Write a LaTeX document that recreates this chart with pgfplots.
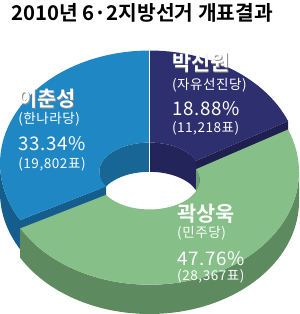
\documentclass[border=0pt]{standalone}
\usepackage{pgfplots}
\pgfplotsset{compat=1.18}
\usepackage{fontspec}
\setmainfont{Noto Sans CJK KR}[BoldFont={Noto Sans CJK KR Bold}]
\newfontfamily\spaced{Noto Sans CJK KR}[LetterSpace=4]
\definecolor{blueTop}{HTML}{1F87C4}
\definecolor{blueSide}{HTML}{155D8C}
\definecolor{blueIn}{HTML}{176695}
\definecolor{navyTop}{HTML}{2E2F6E}
\definecolor{navySide}{HTML}{1F2050}
\definecolor{navyIn}{HTML}{23245A}
\definecolor{greenTop}{HTML}{86BF88}
\definecolor{greenSide}{HTML}{5E8A60}
\definecolor{greenIn}{HTML}{6E9E70}
% shares of the vote (percent)
\def\pNavy{18.88}
\def\pGreen{47.76}
\def\pBlue{33.34}
% geometry (bp)
\def\cx{148}\def\rx{143}\def\ry{108}\def\irx{48}\def\iry{28}\def\dep{28}
\def\oUp{152}\def\iUp{144}\def\oLo{144}\def\iLo{136}
\newcommand{\topface}[5]{%
 \addplot[fill=#1, draw=none, domain=#2:#3, samples=60, variable=\t]
  ({\cx+\rx*cos(\t)},{#4+\ry*sin(\t)})
  -- (axis cs:{\cx+\irx*cos(#3)},{#5+\iry*sin(#3)})
  arc[start angle=#3, end angle=#2, x radius=\irx bp, y radius=\iry bp] -- cycle;}
\newcommand{\outside}[4]{%
 \addplot[fill=#1, draw=none, domain=#2:#3, samples=60, variable=\t]
  ({\cx+\rx*cos(\t)},{#4+\ry*sin(\t)})
  -- (axis cs:{\cx+\rx*cos(#3)},{#4-\dep+\ry*sin(#3)})
  arc[start angle=#3, end angle=#2, x radius=\rx bp, y radius=\ry bp] -- cycle;}
\newcommand{\inside}[4]{%
 \addplot[fill=#1, draw=none, domain=#2:#3, samples=40, variable=\t]
  ({\cx+\irx*cos(\t)},{#4+\iry*sin(\t)})
  -- (axis cs:{\cx+\irx*cos(#3)},{#4-\dep+\iry*sin(#3)})
  arc[start angle=#3, end angle=#2, x radius=\irx bp, y radius=\iry bp] -- cycle;}
\newcommand{\cutface}[4]{%
 \pgfmathsetmacro{\xo}{\cx+\rx*cos(#2)}\pgfmathsetmacro{\yo}{#3+\ry*sin(#2)}
 \pgfmathsetmacro{\xi}{\cx+\irx*cos(#2)}\pgfmathsetmacro{\yi}{#4+\iry*sin(#2)}
 \pgfmathsetmacro{\yob}{\yo-\dep}\pgfmathsetmacro{\yib}{\yi-\dep}
 \addplot[fill=#1, draw=none] coordinates {(\xo,\yo) (\xi,\yi) (\xi,\yib) (\xo,\yob)} -- cycle;}
\tikzset{nm/.style={anchor=west, white, font=\bfseries\fontsize{20}{20}\selectfont},
 nms/.style={anchor=west, black!45, font=\bfseries\fontsize{20}{20}\selectfont},
 pt/.style={anchor=west, white, font=\spaced\fontsize{13}{13}\selectfont},
 pc/.style={anchor=west, white, font=\spaced\fontsize{18}{18}\selectfont}}
\begin{document}
\begin{tikzpicture}
\pgfmathsetmacro{\aA}{90-\pNavy*3.6}
\pgfmathsetmacro{\aB}{\aA-\pGreen*3.6}
\pgfmathsetmacro{\aBp}{\aB+360}
\begin{axis}[scale only axis, width=300bp, height=314bp,
  xmin=0, xmax=300, ymin=0, ymax=314, hide axis, clip=false]
\inside{navyIn}{\aA}{90}{\iUp}
\inside{blueIn}{90}{180}{\iUp}
\outside{blueSide}{180}{\aBp}{\oUp}
\cutface{blueSide}{\aBp}{\oUp}{\iUp}
\cutface{navySide}{\aA}{\oUp}{\iUp}
\inside{greenIn}{0}{\aA}{\iLo}
\outside{greenSide}{\aB}{0}{\oLo}
\topface{greenTop}{\aB}{\aA}{\oLo}{\iLo}
\topface{navyTop}{\aA}{90}{\oUp}{\iUp}
\topface{blueTop}{90}{\aBp}{\oUp}{\iUp}
\addplot[white, line width=1.6pt] coordinates {(148,144) (148,261)};
% labels
\node[nms] at (axis cs:19.7,213.3) {이춘성};
\node[nm] at (axis cs:19,214) {이춘성};
\node[pt] at (axis cs:19,194) {(한나라당)};
\node[pc] at (axis cs:19,171) {33.34\%};
\node[pt] at (axis cs:19,151) {(19,802표)};
\node[nms] at (axis cs:166.7,247.3) {박신원};
\node[nm] at (axis cs:166,248) {박신원};
\node[pt] at (axis cs:166,227) {(자유선진당)};
\node[pc] at (axis cs:166,204) {18.88\%};
\node[pt] at (axis cs:166,186) {(11,218표)};
\node[nm] at (axis cs:171,104) {곽상욱};
\node[pt] at (axis cs:171,85) {(민주당)};
\node[pc] at (axis cs:171,61) {47.76\%};
\node[pt] at (axis cs:171,44) {(28,367표)};
\node[anchor=center, black, font=\bfseries\fontsize{19.5}{20}\selectfont] at (axis cs:141,296) {2010년 6·2지방선거 개표결과};
\end{axis}
\end{tikzpicture}
\end{document}
